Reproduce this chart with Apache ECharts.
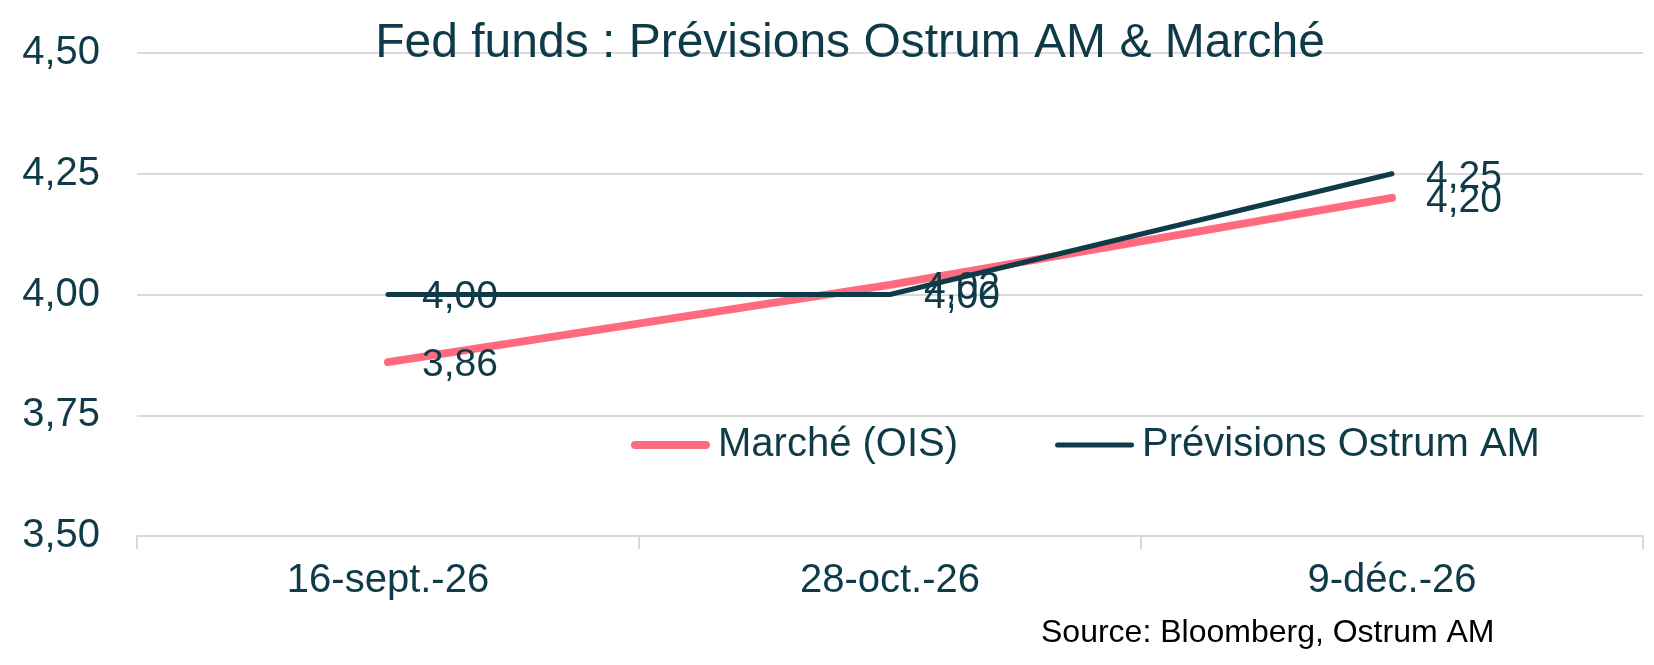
<!DOCTYPE html>
<html>
<head>
<meta charset="utf-8">
<script src="https://cdn.jsdelivr.net/npm/echarts@6/dist/echarts.min.js"></script>
<style>
  html, body { margin: 0; padding: 0; background: #fff; }
  #main { width: 1654px; height: 665px; }
</style>
</head>
<body>
<div id="main"></div>
<script>
// dates de réunion FOMC
var dates = ['16-sept.-26', '28-oct.-26', '9-déc.-26'];
var marche = [3.86, 4.02, 4.20];
var ostrum = [4.00, 4.00, 4.25];

var teal = '#0E3B47';
var pink = '#FF6A7E';
var font = 'Liberation Sans, Arial, sans-serif';

function fr(v) { return v.toFixed(2).replace('.', ','); }

// traits arrondis pour la légende
var iconThick = 'path://M4,0 L75,0 A4,4 0 0 1 75,8 L4,8 A4,4 0 0 1 4,0 Z';
var iconThin = 'path://M2.5,0 L76.5,0 A2.5,2.5 0 0 1 76.5,5 L2.5,5 A2.5,2.5 0 0 1 2.5,0 Z';

var labelStyle = {
    show: true, position: 'right', distance: 34, offset: [0, 3],
    fontFamily: font, fontSize: 39, color: teal,
    formatter: function (p) { return fr(p.value); }
};

var myChart = echarts.init(document.getElementById('main'));
var option = {
    animation: false,
    backgroundColor: '#fff',
    textStyle: { fontFamily: font },
    title: [{
        text: 'Fed funds : Prévisions Ostrum AM & Marché',
        left: 845, top: 15, textAlign: 'center',
        textStyle: { fontFamily: font, fontSize: 48, fontWeight: 'normal', color: teal }
    }, {
        text: 'Source: Bloomberg, Ostrum AM',
        left: 1036, top: 612,
        textStyle: { fontFamily: font, fontSize: 32, fontWeight: 'normal', color: '#000' }
    }],
    legend: {
        left: 626, top: 420,
        itemWidth: 79, itemHeight: 14,
        itemGap: 97,
        symbolKeepAspect: true,
        textStyle: { fontFamily: font, fontSize: 40, color: teal, padding: [0, 0, 0, 3] },
        data: [
            { name: 'Marché (OIS)', icon: iconThick, itemStyle: { color: pink } },
            { name: 'Prévisions Ostrum AM', icon: iconThin, itemStyle: { color: teal } }
        ]
    },
    grid: { left: 137, right: 11, top: 53, bottom: 129, containLabel: false },
    xAxis: {
        type: 'category',
        data: dates,
        boundaryGap: true,
        axisLine: { lineStyle: { color: '#d9d9d9', width: 2 } },
        axisTick: { show: true, length: 13, lineStyle: { color: '#d9d9d9', width: 2 } },
        axisLabel: { fontFamily: font, fontSize: 40, color: teal, margin: 25 }
    },
    yAxis: {
        type: 'value',
        min: 3.5, max: 4.5, interval: 0.25,
        axisLine: { show: false },
        axisTick: { show: false },
        splitLine: { lineStyle: { color: '#d9d9d9', width: 2 } },
        axisLabel: { fontFamily: font, fontSize: 40, color: teal, margin: 37, formatter: fr }
    },
    series: [{
        name: 'Marché (OIS)',
        type: 'line',
        data: marche,
        symbol: 'circle', symbolSize: 0.01, showSymbol: true,
        lineStyle: { color: pink, width: 8, cap: 'round' },
        itemStyle: { color: 'transparent' },
        label: labelStyle
    }, {
        name: 'Prévisions Ostrum AM',
        type: 'line',
        data: ostrum,
        symbol: 'circle', symbolSize: 0.01, showSymbol: true,
        lineStyle: { color: teal, width: 5, cap: 'round' },
        itemStyle: { color: 'transparent' },
        label: labelStyle
    }]
};
myChart.setOption(option);
</script>
</body>
</html>
